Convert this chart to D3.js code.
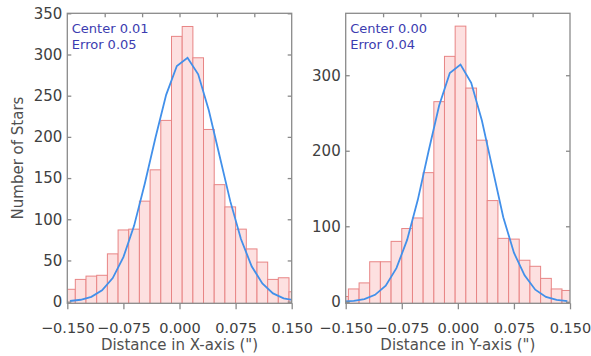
<!DOCTYPE html>
<html>
<head>
<meta charset="utf-8">
<script src="https://cdn.jsdelivr.net/npm/d3@7"></script>
<style>
    body { margin: 0; background: #fff; }
    text { font-family: "DejaVu Sans", sans-serif; }
</style>
</head>
<body>
<div id="chart"></div>
<script>
// Bin edges (arcsec) for the two histograms
const edgesX = [-0.1536, -0.1393, -0.1250, -0.1107, -0.0964, -0.0821, -0.0679, -0.0536,
    -0.0393, -0.0250, -0.0107, 0.0036, 0.0179, 0.0321, 0.0464, 0.0607, 0.0750, 0.0893,
    0.1036, 0.1179, 0.1321, 0.1464, 0.1607];
const edgesY = [-0.1607, -0.1464, -0.1321, -0.1179, -0.1036, -0.0893, -0.0750, -0.0607,
    -0.0464, -0.0321, -0.0179, -0.0036, 0.0107, 0.0250, 0.0393, 0.0536, 0.0679, 0.0821,
    0.0964, 0.1107, 0.1250, 0.1393, 0.1536];

// Number of stars in each bin
const countsX = [15, 27, 31, 32, 58, 87, 88, 122, 160, 220, 322, 334, 296, 209, 142, 115, 88, 64, 48, 27, 29, 12];
const countsY = [7, 17, 25, 53, 53, 80, 97, 111, 171, 265, 325, 365, 283, 214, 134, 84, 83, 55, 47, 31, 17, 15];

// Gaussian fit, read at the bin centres
const fitX = [0.8, 2.3, 5.9, 13.7, 28.6, 54, 92, 143, 199, 251, 286, 296, 276, 232, 177, 122, 76, 43, 22, 10, 4, 1.6];
const fitY = [0.4, 1.2, 3.5, 9.2, 21.4, 44.5, 82, 135, 199, 260, 303, 314, 290, 240, 176, 112, 65, 35, 16, 6.5, 2.4, 0.8];

// Axis ticks
const bottomTicks = [-0.15, -0.075, 0, 0.075, 0.15];
const topTicks = [-0.1, -0.05, 0, 0.05, 0.1];
const countTicksX = [0, 50, 100, 150, 200, 250, 300, 350];
const countTicksY = [0, 100, 200, 300];

const width = 591,
    height = 356;

const svg = d3
    .select("#chart")
    .append("svg")
    .attr("width", width)
    .attr("height", height)
    .attr("viewBox", [0, 0, width, height]);

svg.append("rect").attr("width", width).attr("height", height).attr("fill", "#fff");

const fmt = (d) => d3.format(".3f")(d).replace("-", "\u2212");

function histPanel(opts) {
    const { id, left, right, top, bottom, edges, counts, fit } = opts;

    let x = d3.scaleLinear().domain([-0.15, 0.15]).range([left, right]);
    let y = d3.scaleLinear().domain(opts.yDomain).range([bottom, top]);

    const g = svg.append("g");

    g.append("clipPath")
        .attr("id", id)
        .append("rect")
        .attr("x", left)
        .attr("y", top)
        .attr("width", right - left)
        .attr("height", bottom - top);

    // Bars
    const bins = counts.map((c, i) => ({ x0: edges[i], x1: edges[i + 1], n: c }));
    g.append("g")
        .attr("clip-path", `url(#${id})`)
        .selectAll("rect")
        .data(bins)
        .join("rect")
        .attr("x", (d) => x(d.x0))
        .attr("y", (d) => y(d.n))
        .attr("width", (d) => x(d.x1) - x(d.x0))
        .attr("height", (d) => y(0) - y(d.n) + 2)
        .attr("fill", "#fde0e0")
        .attr("stroke", "#e88585")
        .attr("stroke-width", 1);

    // Fitted curve
    const pts = fit.map((v, i) => [(edges[i] + edges[i + 1]) / 2, v]);
    g.append("path")
        .attr("clip-path", `url(#${id})`)
        .datum(pts)
        .attr("fill", "none")
        .attr("stroke", "#4290ea")
        .attr("stroke-width", 1.8)
        .attr("d", d3.line().x((d) => x(d[0])).y((d) => y(d[1])));

    // Axes
    const axisColor = "#8a8a8a";
    const gb = g.append("g")
        .attr("transform", `translate(0,${bottom})`)
        .call(d3.axisBottom(x).tickValues(bottomTicks).tickFormat(fmt).tickSize(6).tickPadding(13));
    const gt = g.append("g")
        .attr("transform", `translate(0,${top})`)
        .call(d3.axisTop(x).tickValues(topTicks).tickFormat("").tickSize(-4));
    const gl = g.append("g")
        .attr("transform", `translate(${left},0)`)
        .call(d3.axisLeft(y).tickValues(opts.yTicks).tickSize(-4).tickPadding(5));
    const gr = g.append("g")
        .attr("transform", `translate(${right},0)`)
        .call(d3.axisRight(y).tickValues(opts.yTicks).tickFormat("").tickSize(-4));

    for (let a of [gb, gt, gl, gr]) {
        a.select(".domain").remove();
        a.selectAll("line").attr("stroke", axisColor).attr("stroke-width", 1.3);
        a.selectAll("text")
            .attr("fill", "#404040")
            .style("font-size", "15px")
            .style("font-family", "DejaVu Sans, sans-serif");
    }
    gb.selectAll("text").style("font-size", "14.5px");

    g.append("rect")
        .attr("x", left)
        .attr("y", top)
        .attr("width", right - left)
        .attr("height", bottom - top)
        .attr("fill", "none")
        .attr("stroke", axisColor)
        .attr("stroke-width", 1.3);

    // Fit results
    g.append("text")
        .attr("x", left + 4.5)
        .attr("y", 33)
        .attr("fill", "#3c3cb0")
        .style("font-size", "13px")
        .text(opts.center);
    g.append("text")
        .attr("x", left + 4.5)
        .attr("y", 49)
        .attr("fill", "#3c3cb0")
        .style("font-size", "13px")
        .text(opts.error);

    // X label
    g.append("text")
        .attr("x", (left + right) / 2)
        .attr("y", 350)
        .attr("text-anchor", "middle")
        .attr("fill", "#505050")
        .style("font-size", "15px")
        .text(opts.xLabel);
}

histPanel({
    id: "clipX",
    left: 67.3,
    right: 291.7,
    top: 13.3,
    bottom: 303.3,
    yDomain: [-2, 350],
    yTicks: countTicksX,
    edges: edgesX,
    counts: countsX,
    fit: fitX,
    center: "Center 0.01",
    error: "Error 0.05",
    xLabel: "Distance in X-axis (\")",
});

histPanel({
    id: "clipY",
    left: 345.7,
    right: 570,
    top: 13.3,
    bottom: 303.3,
    yDomain: [-2, 382],
    yTicks: countTicksY,
    edges: edgesY,
    counts: countsY,
    fit: fitY,
    center: "Center 0.00",
    error: "Error 0.04",
    xLabel: "Distance in Y-axis (\")",
});

// Y label
svg.append("text")
    .attr("transform", "translate(23,158) rotate(-90)")
    .attr("text-anchor", "middle")
    .attr("fill", "#505050")
    .style("font-size", "15px")
    .text("Number of Stars");
</script>
</body>
</html>
